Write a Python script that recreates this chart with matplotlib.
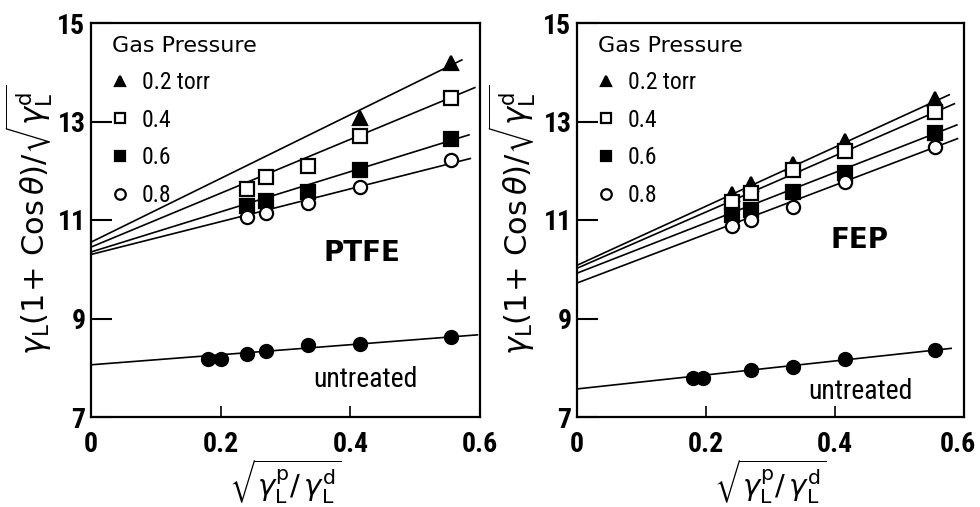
import matplotlib
matplotlib.use("Agg")
import matplotlib.pyplot as plt
import matplotlib.transforms as mtransforms
import numpy as np
from matplotlib import font_manager

# ---------------- data ----------------
x_liquids = [0.18, 0.20, 0.24, 0.27, 0.335, 0.415, 0.555]
x_treated = [0.24, 0.27, 0.335, 0.415, 0.555]

pressure_labels = ["0.2 torr", "0.4", "0.6", "0.8"]

# PTFE
ptfe_untreated = [8.17, 8.18, 8.28, 8.35, 8.46, 8.48, 8.63]
ptfe_02_x = [0.415, 0.555]
ptfe_02 = [13.08, 14.18]
ptfe_04 = [11.63, 11.88, 12.10, 12.71, 13.47]
ptfe_06 = [11.29, 11.39, 11.56, 12.02, 12.65]
ptfe_08 = [11.07, 11.14, 11.34, 11.66, 12.22]
ptfe_fit_intercept = [10.55, 10.45, 10.35, 10.30, 8.06]
ptfe_fit_slope = [6.47, 5.47, 4.08, 3.33, 1.02]
ptfe_fit_xend = [0.572, 0.592, 0.583, 0.585, 0.596]

# FEP
fep_untreated_x = [0.18, 0.196, 0.27, 0.335, 0.415, 0.555]
fep_untreated = [7.79, 7.79, 7.96, 8.02, 8.17, 8.36]
fep_02 = [11.53, 11.74, 12.13, 12.61, 13.46]
fep_04 = [11.36, 11.55, 12.02, 12.41, 13.19]
fep_06 = [11.10, 11.21, 11.57, 11.95, 12.76]
fep_08 = [10.87, 10.99, 11.26, 11.77, 12.48]
fep_fit_intercept = [10.08, 10.02, 9.92, 9.72, 7.57]
fep_fit_slope = [6.00, 5.71, 5.11, 4.97, 1.42]
fep_fit_xend = [0.577, 0.585, 0.589, 0.590, 0.580]

x_ticks = [0, 0.2, 0.4, 0.6]
x_ticklabels = ["0", "0.2", "0.4", "0.6"]
y_ticks = [7, 9, 11, 13, 15]
y_ticklabels = ["7", "9", "11", "13", "15"]

# ---------------- fonts ----------------
avail = {f.name for f in font_manager.fontManager.ttflist}
narrow = None
for cand in ["Liberation Sans Narrow", "DejaVu Sans Condensed", "Roboto Condensed", "Open Sans Condensed"]:
    if cand in avail:
        narrow = cand
        break
if narrow is None:
    narrow = "DejaVu Sans"

plt.rcParams["font.family"] = ["DejaVu Sans"]
plt.rcParams["mathtext.fontset"] = "dejavusans"

fig = plt.figure(figsize=(9.8, 5.07), dpi=100)
ax1 = fig.add_axes([91 / 980, 90 / 507, 389 / 980, 394 / 507])
ax2 = fig.add_axes([577 / 980, 90 / 507, 387 / 980, 394 / 507])

ms = 9.5
lw = 1.2


def draw_panel(ax, treated_series, untreated_x, untreated_y, fit_a, fit_b, fit_xend,
               name, name_xy, untreated_xy, ylabel_x):
    # fit lines
    for a, b, xe in zip(fit_a, fit_b, fit_xend):
        xs = np.array([0.0, xe])
        ax.plot(xs, a + b * xs, color="black", lw=lw, zorder=2)
    styles = [
        dict(marker="^", mfc="black", mec="black"),
        dict(marker="s", mfc="white", mec="black"),
        dict(marker="s", mfc="black", mec="black"),
        dict(marker="o", mfc="white", mec="black"),
    ]
    handles = []
    for (xs, ys), st, lab in zip(treated_series, styles, pressure_labels):
        h, = ax.plot(xs, ys, linestyle="none", ms=ms, mew=1.6, zorder=3, label=lab, **st)
        handles.append(h)
    ax.plot(untreated_x, untreated_y, linestyle="none", marker="o", mfc="black",
            mec="black", ms=ms + 0.5, zorder=3)

    ax.set_xlim(0, 0.6)
    ax.set_ylim(7, 15)
    ax.set_xticks(x_ticks)
    ax.set_xticklabels(x_ticklabels)
    ax.set_yticks(y_ticks)
    ax.set_yticklabels(y_ticklabels)
    ax.tick_params(axis="y", direction="in", length=15, width=1.5, pad=4)
    ax.tick_params(axis="x", direction="in", length=8, width=1.2, pad=10)
    for lbl in ax.get_xticklabels() + ax.get_yticklabels():
        lbl.set_fontfamily([narrow, "DejaVu Sans"])
        lbl.set_fontweight("bold")
        lbl.set_fontsize(20)
    for sp in ax.spines.values():
        sp.set_linewidth(1.6)

    leg = ax.legend(handles=handles, labels=pressure_labels, title="Gas Pressure",
                    loc="upper left", bbox_to_anchor=(0.03, 0.99), frameon=False,
                    handlelength=0.7, handletextpad=0.55, labelspacing=0.62,
                    markerscale=0.8, borderaxespad=0.0, alignment="left",
                    prop={"family": [narrow, "DejaVu Sans"], "size": 17})
    leg.get_title().set_fontsize(16)
    leg.get_title().set_fontfamily(["DejaVu Sans"])

    ax.text(name_xy[0], name_xy[1], name, fontsize=20, fontweight="bold",
            ha="center", va="center")
    ax.text(untreated_xy[0], untreated_xy[1], "untreated", fontsize=20,
            family=[narrow, "DejaVu Sans"], ha="center", va="center")

    ax.set_ylabel(r"$\gamma_{\rm L}(1\!+\,{\rm Cos}\,\theta)/\sqrt{\gamma_{\rm L}^{\rm d}}$",
                  fontsize=22)
    ax.yaxis.set_label_coords(ylabel_x, 0.5)
    ax.yaxis.label.set_va("center")
    ax.set_xlabel(r"$\sqrt{\gamma_{\rm L}^{\rm p}/\,\gamma_{\rm L}^{\rm d}}$",
                  fontsize=21)
    ax.xaxis.set_label_coords(0.5, -0.165)
    ax.xaxis.label.set_va("center")


draw_panel(ax1,
           [(ptfe_02_x, ptfe_02), (x_treated, ptfe_04), (x_treated, ptfe_06), (x_treated, ptfe_08)],
           x_liquids, ptfe_untreated, ptfe_fit_intercept, ptfe_fit_slope, ptfe_fit_xend,
           "PTFE", (0.418, 10.33), (0.423, 7.76), -0.16)
draw_panel(ax2,
           [(x_treated, fep_02), (x_treated, fep_04), (x_treated, fep_06), (x_treated, fep_08)],
           fep_untreated_x, fep_untreated, fep_fit_intercept, fep_fit_slope, fep_fit_xend,
           "FEP", (0.438, 10.59), (0.44, 7.52), -0.17)

# keep the last tick label of the right panel inside the canvas
last = ax2.get_xticklabels()[-1]
last.set_transform(last.get_transform() +
                   mtransforms.ScaledTranslation(-6 / 100, 0, fig.dpi_scale_trans))

fig.savefig("out.png", dpi=100)
